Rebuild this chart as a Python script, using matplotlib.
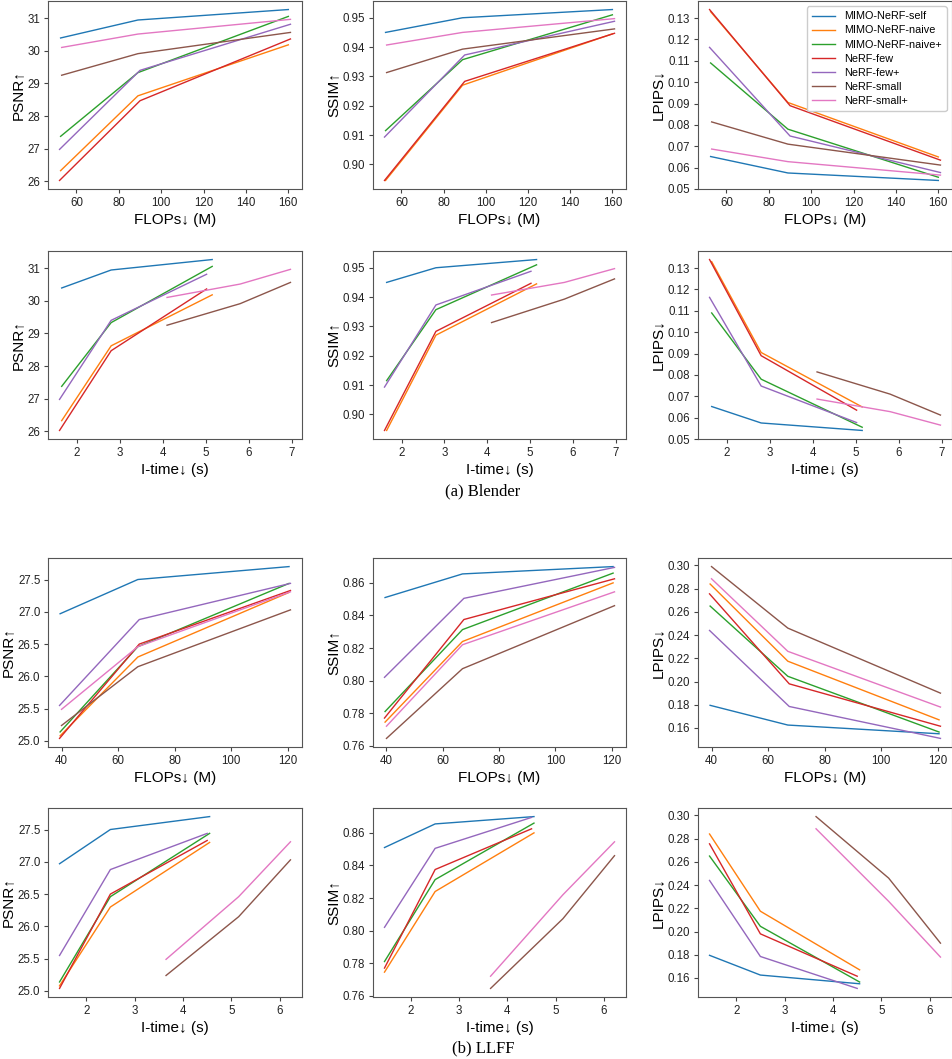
import numpy as np
import matplotlib
matplotlib.use('Agg')
import matplotlib.pyplot as plt
from matplotlib.ticker import MultipleLocator, FormatStrFormatter

plt.rcParams['font.family'] = ['Liberation Sans', 'DejaVu Sans']

methods = ['MIMO-NeRF-self', 'MIMO-NeRF-naive', 'MIMO-NeRF-naive+',
           'NeRF-few', 'NeRF-few+', 'NeRF-small', 'NeRF-small+']
colors = ['#1f77b4', '#ff7f0e', '#2ca02c', '#d62728', '#9467bd', '#8c564b', '#e377c2']

# Blender
bl_flops = [[52.5, 89, 160], [52.5, 89, 160], [52.5, 89, 160],
            [52, 90, 161], [52, 90, 161], [53, 89, 161], [53, 89, 161]]
bl_time = [[1.65, 2.8, 5.15], [1.65, 2.8, 5.15], [1.65, 2.8, 5.15],
           [1.6, 2.8, 5.02], [1.6, 2.8, 5.02], [4.1, 5.8, 6.97], [4.1, 5.8, 6.97]]
bl_psnr = [[30.39, 30.94, 31.26], [26.33, 28.62, 30.18], [27.38, 29.33, 31.05],
           [26.03, 28.47, 30.36], [26.98, 29.40, 30.81], [29.25, 29.91, 30.56],
           [30.10, 30.51, 30.96]]
bl_ssim = [[0.945, 0.950, 0.9528], [0.8945, 0.927, 0.9445], [0.9115, 0.9357, 0.951],
           [0.8945, 0.9283, 0.9447], [0.9093, 0.9373, 0.9488], [0.9313, 0.9393, 0.9462],
           [0.9407, 0.945, 0.9497]]
bl_lpips = [[0.0652, 0.0575, 0.054], [0.133, 0.0905, 0.065], [0.109, 0.078, 0.0555],
            [0.134, 0.089, 0.0635], [0.1163, 0.0748, 0.0577], [0.0814, 0.071, 0.0612],
            [0.0687, 0.0628, 0.0565]]

# LLFF
ll_flops = [[39.5, 67, 120.5], [39.5, 67, 120.5], [39.5, 67, 120.5],
            [39.3, 67.5, 121], [39.3, 67.5, 121], [40, 67, 121], [40, 67, 121]]
ll_time = [[1.45, 2.5, 4.55], [1.45, 2.5, 4.55], [1.45, 2.5, 4.55],
           [1.45, 2.5, 4.5], [1.45, 2.5, 4.5], [3.65, 5.15, 6.22], [3.65, 5.15, 6.22]]
ll_psnr = [[26.97, 27.50, 27.70], [25.08, 26.30, 27.30], [25.14, 26.46, 27.44],
           [25.04, 26.50, 27.33], [25.55, 26.88, 27.44], [25.24, 26.15, 27.03],
           [25.49, 26.46, 27.31]]
ll_ssim = [[0.851, 0.8655, 0.870], [0.7745, 0.824, 0.860], [0.781, 0.8313, 0.866],
           [0.777, 0.8375, 0.8625], [0.802, 0.8505, 0.8695], [0.7645, 0.8073, 0.846],
           [0.772, 0.822, 0.8545]]
ll_lpips = [[0.1795, 0.1625, 0.155], [0.284, 0.2175, 0.167], [0.265, 0.2045, 0.1565],
            [0.2755, 0.198, 0.1615], [0.244, 0.1785, 0.151], [0.299, 0.246, 0.190],
            [0.2885, 0.226, 0.178]]

W, H = 952, 1059
fig = plt.figure(figsize=(W / 100, H / 100), dpi=100)

col_lr = [(48, 302), (373, 626), (698, 952)]
row_tb = [(1, 189), (251, 439), (558, 747), (808, 997)]

rows = [(bl_flops, 'FLOPs↓ (M)'), (bl_time, 'I-time↓ (s)'),
        (ll_flops, 'FLOPs↓ (M)'), (ll_time, 'I-time↓ (s)')]
metrics = [[bl_psnr, bl_ssim, bl_lpips], [bl_psnr, bl_ssim, bl_lpips],
           [ll_psnr, ll_ssim, ll_lpips], [ll_psnr, ll_ssim, ll_lpips]]
ylabels = ['PSNR↑', 'SSIM↑', 'LPIPS↓']

for r in range(4):
    xs, xlabel = rows[r]
    for c in range(3):
        l, rr = col_lr[c]
        t, b = row_tb[r]
        ax = fig.add_axes([l / W, 1 - b / H, (rr - l) / W, (b - t) / H])
        ys = metrics[r][c]
        for i in range(7):
            ax.plot(xs[i], ys[i], color=colors[i], lw=1.0, label=methods[i])
        ax.set_xlabel(xlabel, fontsize=11, labelpad=3)
        ax.set_ylabel(ylabels[c], fontsize=11, labelpad=2)
        ax.tick_params(labelsize=8.3, length=3, pad=2.5, color='#444444',
                       labelcolor='#222222')
        for s in ax.spines.values():
            s.set_color('#555555')
        if c == 2:
            ax.yaxis.set_major_locator(MultipleLocator(0.01 if r < 2 else 0.02))
            ax.yaxis.set_major_formatter(FormatStrFormatter('%.2f'))
        if r == 0 and c == 2:
            ax.legend(loc='upper right', fontsize=7.8, framealpha=1.0,
                      handlelength=2.2, borderpad=0.45, labelspacing=0.38)

fig.text(483 / W, 1 - 491 / H, '(a) Blender', ha='center', va='center',
         fontsize=12, family='Liberation Serif')
fig.text(483 / W, 1 - 1048 / H, '(b) LLFF', ha='center', va='center',
         fontsize=12, family='Liberation Serif')

fig.savefig('out.png', dpi=100)
